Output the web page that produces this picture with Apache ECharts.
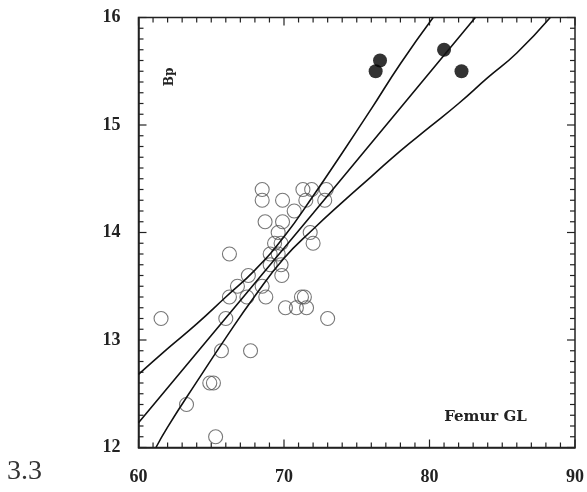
<!DOCTYPE html>
<html>
<head>
<meta charset="utf-8">
<script src="https://cdn.jsdelivr.net/npm/echarts@6/dist/echarts.min.js"></script>
<style>
  html, body { margin: 0; padding: 0; background: #fff; }
  #chart { width: 587px; height: 492px; }
</style>
</head>
<body>
<div id="chart"></div>
<script>
// open circles: [Femur GL, Bp]
var openPoints = [
  [68.5, 14.4], [71.3, 14.4], [71.9, 14.4], [72.9, 14.4],
  [68.5, 14.3], [69.9, 14.3], [71.5, 14.3], [72.8, 14.3],
  [70.7, 14.2],
  [68.7, 14.1], [69.9, 14.1],
  [69.6, 14.0], [71.8, 14.0],
  [69.35, 13.9], [69.8, 13.9], [72.0, 13.9],
  [66.25, 13.8], [69.05, 13.8], [69.6, 13.8],
  [69.05, 13.7], [69.8, 13.7],
  [67.55, 13.6], [69.85, 13.6],
  [66.8, 13.5], [68.5, 13.5],
  [66.25, 13.4], [67.45, 13.4], [68.75, 13.4], [71.2, 13.4], [71.4, 13.4],
  [70.1, 13.3], [70.85, 13.3], [71.55, 13.3],
  [61.55, 13.2], [66.0, 13.2], [73.0, 13.2],
  [65.7, 12.9], [67.7, 12.9],
  [64.9, 12.6], [65.15, 12.6],
  [63.3, 12.4],
  [65.3, 12.1]
];
// filled circles
var filledPoints = [
  [76.6, 15.6], [76.3, 15.5], [81.0, 15.7], [82.2, 15.5]
];
// fitted line and its two bands
var upperBand = [[60, 12.68], [62, 12.92], [64, 13.15], [66, 13.4], [68, 13.65], [70, 13.96],
  [72, 14.34], [74, 14.74], [76, 15.15], [78, 15.57], [80.25, 16]];
var fitLine = [[60, 12.23], [72, 14.18], [83.15, 16]];
var lowerBand = [[61.2, 12.0], [62, 12.19], [64, 12.61], [66, 13.02], [68, 13.41], [70, 13.76],
  [72, 14.03], [74, 14.28], [76, 14.52], [78, 14.76], [80, 14.98], [82, 15.2], [84, 15.44],
  [86, 15.67], [88.3, 16]];

var xTicks = [60, 70, 80, 90];
var yTicks = [12, 13, 14, 15, 16];

var xMin = xTicks[0], xMax = xTicks[xTicks.length - 1];
var yMin = yTicks[0], yMax = yTicks[yTicks.length - 1];

// tick marks on all four sides: 10 minor steps per labelled step
var xTickMarks = [];
for (var i = 0; i < xTicks.length - 1; i++) {
  for (var k = 0; k < 10; k++) xTickMarks.push([xTicks[i] + (xTicks[i + 1] - xTicks[i]) * k / 10, yMin, k === 0 ? 1 : 0]);
}
xTickMarks.push([xMax, yMin, 1]);
var yTickMarks = [];
for (var j = 0; j < yTicks.length - 1; j++) {
  for (var m = 0; m < 10; m++) yTickMarks.push([xMin, yTicks[j] + (yTicks[j + 1] - yTicks[j]) * m / 10, m === 0 ? 1 : 0]);
}
yTickMarks.push([xMin, yMax, 1]);

var chart = echarts.init(document.getElementById('chart'));

var labelFont = { fontFamily: 'Liberation Serif', fontWeight: 'bold', fontSize: 18, color: '#222' };
var tickStyle = { stroke: '#222', lineWidth: 1.2 };

function renderXTick(params, api) {
  var x = api.value(0), len = api.value(2) ? 8 : 5;
  var b = api.coord([x, yMin]);
  var t = api.coord([x, yMax]);
  return {
    type: 'group',
    children: [
      { type: 'line', shape: { x1: b[0], y1: b[1], x2: b[0], y2: b[1] - len }, style: tickStyle },
      { type: 'line', shape: { x1: t[0], y1: t[1], x2: t[0], y2: t[1] + len }, style: tickStyle }
    ]
  };
}
function renderYTick(params, api) {
  var y = api.value(1), len = api.value(2) ? 8 : 5;
  var l = api.coord([xMin, y]);
  var r = api.coord([xMax, y]);
  return {
    type: 'group',
    children: [
      { type: 'line', shape: { x1: l[0], y1: l[1], x2: l[0] + len, y2: l[1] }, style: tickStyle },
      { type: 'line', shape: { x1: r[0], y1: r[1], x2: r[0] - len, y2: r[1] }, style: tickStyle }
    ]
  };
}

function lineSeries(data) {
  return {
    type: 'line', data: data,
    showSymbol: false, smooth: true,
    lineStyle: { color: '#111', width: 1.6 }
  };
}

chart.setOption({
  animation: false,
  grid: { left: 138.5, right: 10.5, top: 17.5, bottom: 44.5,
          show: true, borderColor: '#222', borderWidth: 1.5, backgroundColor: 'transparent' },
  xAxis: {
    type: 'value', min: xMin, max: xMax, interval: 10,
    axisLine: { show: true, onZero: false, lineStyle: { color: '#222', width: 1.5 } },
    axisTick: { show: false },
    splitLine: { show: false },
    axisLabel: Object.assign({ margin: 21 }, labelFont)
  },
  yAxis: {
    type: 'value', min: yMin, max: yMax, interval: 1,
    axisLine: { show: true, onZero: false, lineStyle: { color: '#222', width: 1.5 } },
    axisTick: { show: false },
    splitLine: { show: false },
    axisLabel: Object.assign({ margin: 18 }, labelFont)
  },
  graphic: [
    { type: 'text', left: 7, top: 458,
      style: { text: '3.3', fontFamily: 'Liberation Serif', fontSize: 28, fill: '#333' } },
    { type: 'text', x: 170, y: 77, rotation: Math.PI / 2,
      style: { text: 'Bp', fontFamily: 'DejaVu Serif', fontWeight: 'bold', fontSize: 12, fill: '#222',
               align: 'center', verticalAlign: 'middle' } },
    { type: 'text', x: 485.5, y: 417,
      style: { text: 'Femur GL', fontFamily: 'DejaVu Serif', fontWeight: 'bold', fontSize: 15, fill: '#222',
               align: 'center', verticalAlign: 'middle' } }
  ],
  series: [
    { type: 'custom', data: xTickMarks, renderItem: renderXTick, silent: true, clip: false },
    { type: 'custom', data: yTickMarks, renderItem: renderYTick, silent: true, clip: false },
    lineSeries(upperBand),
    lineSeries(fitLine),
    lineSeries(lowerBand),
    {
      type: 'scatter', data: openPoints, symbol: 'circle', symbolSize: 14,
      itemStyle: { color: 'rgba(0,0,0,0)', borderColor: '#555', borderWidth: 1.1 }
    },
    {
      type: 'scatter', data: filledPoints, symbol: 'circle', symbolSize: 14,
      itemStyle: { color: '#000' }
    }
  ]
});
</script>
</body>
</html>
